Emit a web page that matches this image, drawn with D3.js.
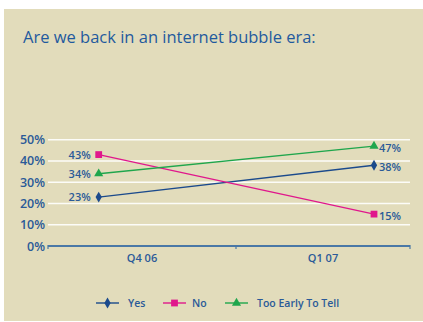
<!DOCTYPE html>
<html>
<head>
<meta charset="utf-8">
<script src="https://cdn.jsdelivr.net/npm/d3@7"></script>
<style>
  html, body { margin: 0; padding: 0; background: #ffffff; }
  svg { display: block; }
  text { font-family: "Open Sans", "Noto Sans", sans-serif; }
</style>
</head>
<body>
<script>
// Survey: are we back in an internet bubble era?
const quarters = ["Q4 06", "Q1 07"];
const seriesNames = ["Yes", "No", "Too Early To Tell"];
const yesValues = [23, 38];
const noValues = [43, 15];
const tooEarlyValues = [34, 47];
const yTicks = [0, 10, 20, 30, 40, 50];

const W = 423, H = 322;
const svg = d3.select("body").append("svg").attr("width", W).attr("height", H);

// panel background
svg.append("rect").attr("x", 4).attr("y", 9).attr("width", W - 4).attr("height", 312)
  .attr("fill", "#e2dcbb");

svg.append("text").attr("x", 23).attr("y", 43)
  .attr("fill", "#1f5a9e").attr("font-size", 16.5)
  .text("Are we back in an internet bubble era:");

const textBlue = "#2a5a98";
const series = [
  { name: seriesNames[0], values: yesValues, color: "#1b4a8c", symbol: d3.symbolDiamond, size: 34 },
  { name: seriesNames[1], values: noValues, color: "#e0178c", symbol: d3.symbolSquare, size: 46 },
  { name: seriesNames[2], values: tooEarlyValues, color: "#1fa64c", symbol: d3.symbolTriangle, size: 36 }
];

const y = d3.scaleLinear().domain([0, 50]).range([246, 139.7]);
// category boundaries along the axis
const xEdge = d3.scaleLinear().domain([0, 1, 2]).range([48, 236, 410]);
// plotted point positions
const x = d3.scalePoint().domain(quarters).range([98.7, 374]);

// gridlines
svg.append("g").selectAll("line").data(yTicks.filter(t => t > 0)).join("line")
  .attr("x1", 48).attr("x2", 410)
  .attr("y1", d => y(d)).attr("y2", d => y(d))
  .attr("stroke", "#ffffff").attr("stroke-width", 1.4).attr("stroke-opacity", 0.9);

// y axis labels
const yAxis = svg.append("g").attr("transform", "translate(48,0)")
  .call(d3.axisLeft(y).tickValues(yTicks).tickFormat(d => d + "%").tickSize(0).tickPadding(3));
yAxis.select(".domain").remove();
yAxis.selectAll("text").attr("fill", textBlue).attr("font-size", 12.5).attr("font-weight", 600)
  .attr("font-family", "'Open Sans', sans-serif");

// x axis
const axisColor = "#4a78a6";
svg.append("line").attr("x1", xEdge(0)).attr("x2", xEdge(2)).attr("y1", 246).attr("y2", 246)
  .attr("stroke", axisColor).attr("stroke-width", 2);
svg.append("g").selectAll("line").data([0, 1, 2]).join("line")
  .attr("x1", d => xEdge(d)).attr("x2", d => xEdge(d)).attr("y1", 245).attr("y2", 249)
  .attr("stroke", axisColor).attr("stroke-width", 1.2);
svg.append("g").selectAll("text").data(quarters).join("text")
  .attr("x", (d, i) => (xEdge(i) + xEdge(i + 1)) / 2).attr("y", 262)
  .attr("text-anchor", "middle").attr("fill", textBlue)
  .attr("font-size", 11).attr("font-weight", 600)
  .text(d => d);

// lines, markers, value labels
const line = d3.line().x((d, i) => x(quarters[i])).y(d => y(d));
series.forEach(s => {
  const g = svg.append("g");
  g.append("path").attr("d", line(s.values)).attr("fill", "none")
    .attr("stroke", s.color).attr("stroke-width", 1.4);
  g.selectAll("path.m").data(s.values).join("path").attr("class", "m")
    .attr("transform", (d, i) => `translate(${x(quarters[i])},${y(d)})`)
    .attr("d", d3.symbol().type(s.symbol).size(s.size)).attr("fill", s.color);
  g.selectAll("text").data(s.values).join("text")
    .attr("x", (d, i) => i === 0 ? x(quarters[i]) - 8 : x(quarters[i]) + 5)
    .attr("y", (d, i) => y(d) + (i === 0 ? 4 : 6))
    .attr("text-anchor", (d, i) => i === 0 ? "end" : "start")
    .attr("fill", textBlue).attr("font-size", 11).attr("font-weight", 600)
    .text(d => d + "%");
});

// legend
const legendX = [96, 163, 225];
const legendTextX = [128, 192, 257];
series.forEach((s, i) => {
  const g = svg.append("g");
  g.append("line").attr("x1", legendX[i]).attr("x2", legendX[i] + 23).attr("y1", 303).attr("y2", 303)
    .attr("stroke", s.color).attr("stroke-width", 1.4);
  g.append("path").attr("transform", `translate(${legendX[i] + 11.5},303)`)
    .attr("d", d3.symbol().type(s.symbol).size(s.size)).attr("fill", s.color);
  g.append("text").attr("x", legendTextX[i]).attr("y", 307)
    .attr("fill", textBlue).attr("font-size", 10.5).attr("font-weight", 600)
    .text(s.name);
});
</script>
</body>
</html>
